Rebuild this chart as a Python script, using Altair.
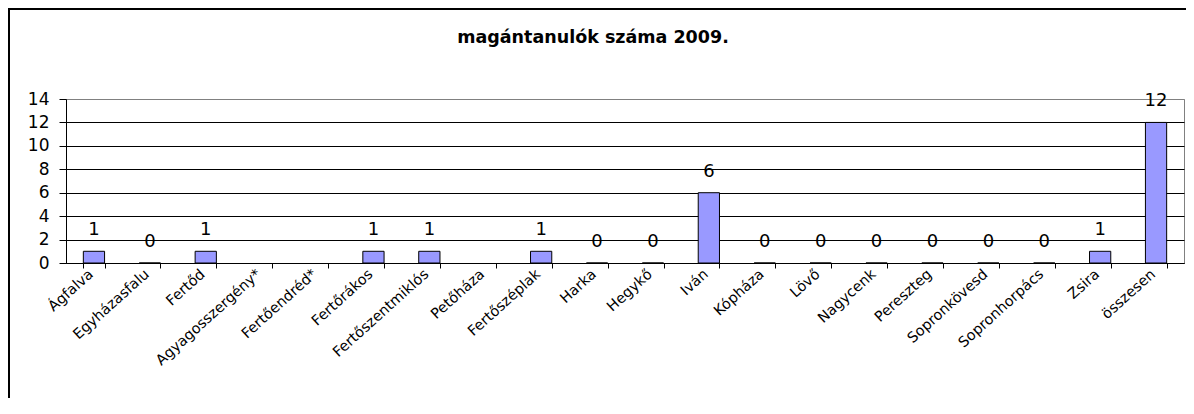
import altair as alt
import pandas as pd

categories = ["Ágfalva", "Egyházasfalu", "Fertőd", "Agyagosszergény*", "Fertőendréd*",
              "Fertőrákos", "Fertőszentmiklós", "Petőháza", "Fertőszéplak", "Harka",
              "Hegykő", "Iván", "Kópháza", "Lövő", "Nagycenk", "Pereszteg",
              "Sopronkövesd", "Sopronhorpács", "Zsira", "összesen"]
values = [1, 0, 1, None, None, 1, 1, None, 1, 0, 0, 6, 0, 0, 0, 0, 0, 0, 1, 12]
y_ticks = [0, 2, 4, 6, 8, 10, 12, 14]
title_text = ["magántanulók száma 2009."]

df = pd.DataFrame({"telepules": categories, "ertek": values})
border_df = pd.DataFrame({"b": [0]})
title_df = pd.DataFrame({"t": title_text})

W, H = 1118, 164
FONT = "DejaVu Sans"

x_enc = alt.X(
    "telepules:N", sort=categories, title=None,
    scale=alt.Scale(paddingInner=0.62, paddingOuter=0.31),
    axis=alt.Axis(labelAngle=-42, labelAlign="right", labelBaseline="middle",
                  labelFont=FONT, labelFontSize=14.5, labelColor="black",
                  labelPadding=4, labelOffset=-3, tickBand="extent", tickSize=5,
                  tickColor="black", domainColor="black", grid=False),
)
y_enc = alt.Y(
    "ertek:Q", title=None,
    scale=alt.Scale(domain=[0, 14], nice=False),
    axis=alt.Axis(values=y_ticks, labelFont=FONT, labelFontSize=17, labelColor="black",
                  tickSize=7, tickColor="black", domainColor="black", labelPadding=10,
                  grid=True, gridOpacity=1,
                  gridColor={"condition": {"test": "datum.value == 14", "value": "#808080"},
                             "value": "black"}),
)

base = alt.Chart(df).encode(x=x_enc, y=y_enc)

bars = base.mark_bar(color="#9999FF", stroke="black", strokeWidth=1)
labels = base.transform_filter("datum.ertek != null").mark_text(
    baseline="bottom", dy=-12, font=FONT, fontSize=18, color="black"
).encode(text="ertek:Q")

border = alt.Chart(border_df).mark_rect(
    fillOpacity=0, stroke="black", strokeWidth=2, clip=False
).encode(x=alt.value(-57), x2=alt.value(W + 200), y=alt.value(-90), y2=alt.value(H + 300))

title = alt.Chart(title_df).mark_text(
    font=FONT, fontSize=17.5, fontWeight="bold", color="black",
    align="center", baseline="alphabetic"
).encode(x=alt.value(527), y=alt.value(-56), text="t:N")

chart = alt.layer(bars, labels, border, title).properties(
    width=W, height=H,
    padding={"left": 58, "top": 91, "right": 2, "bottom": 135},
    autosize=alt.AutoSizeParams(type="none"),
    background="white",
).configure_view(stroke="#808080", strokeWidth=1)

chart.save("out.html", embed_options={"renderer": "svg", "actions": False})
